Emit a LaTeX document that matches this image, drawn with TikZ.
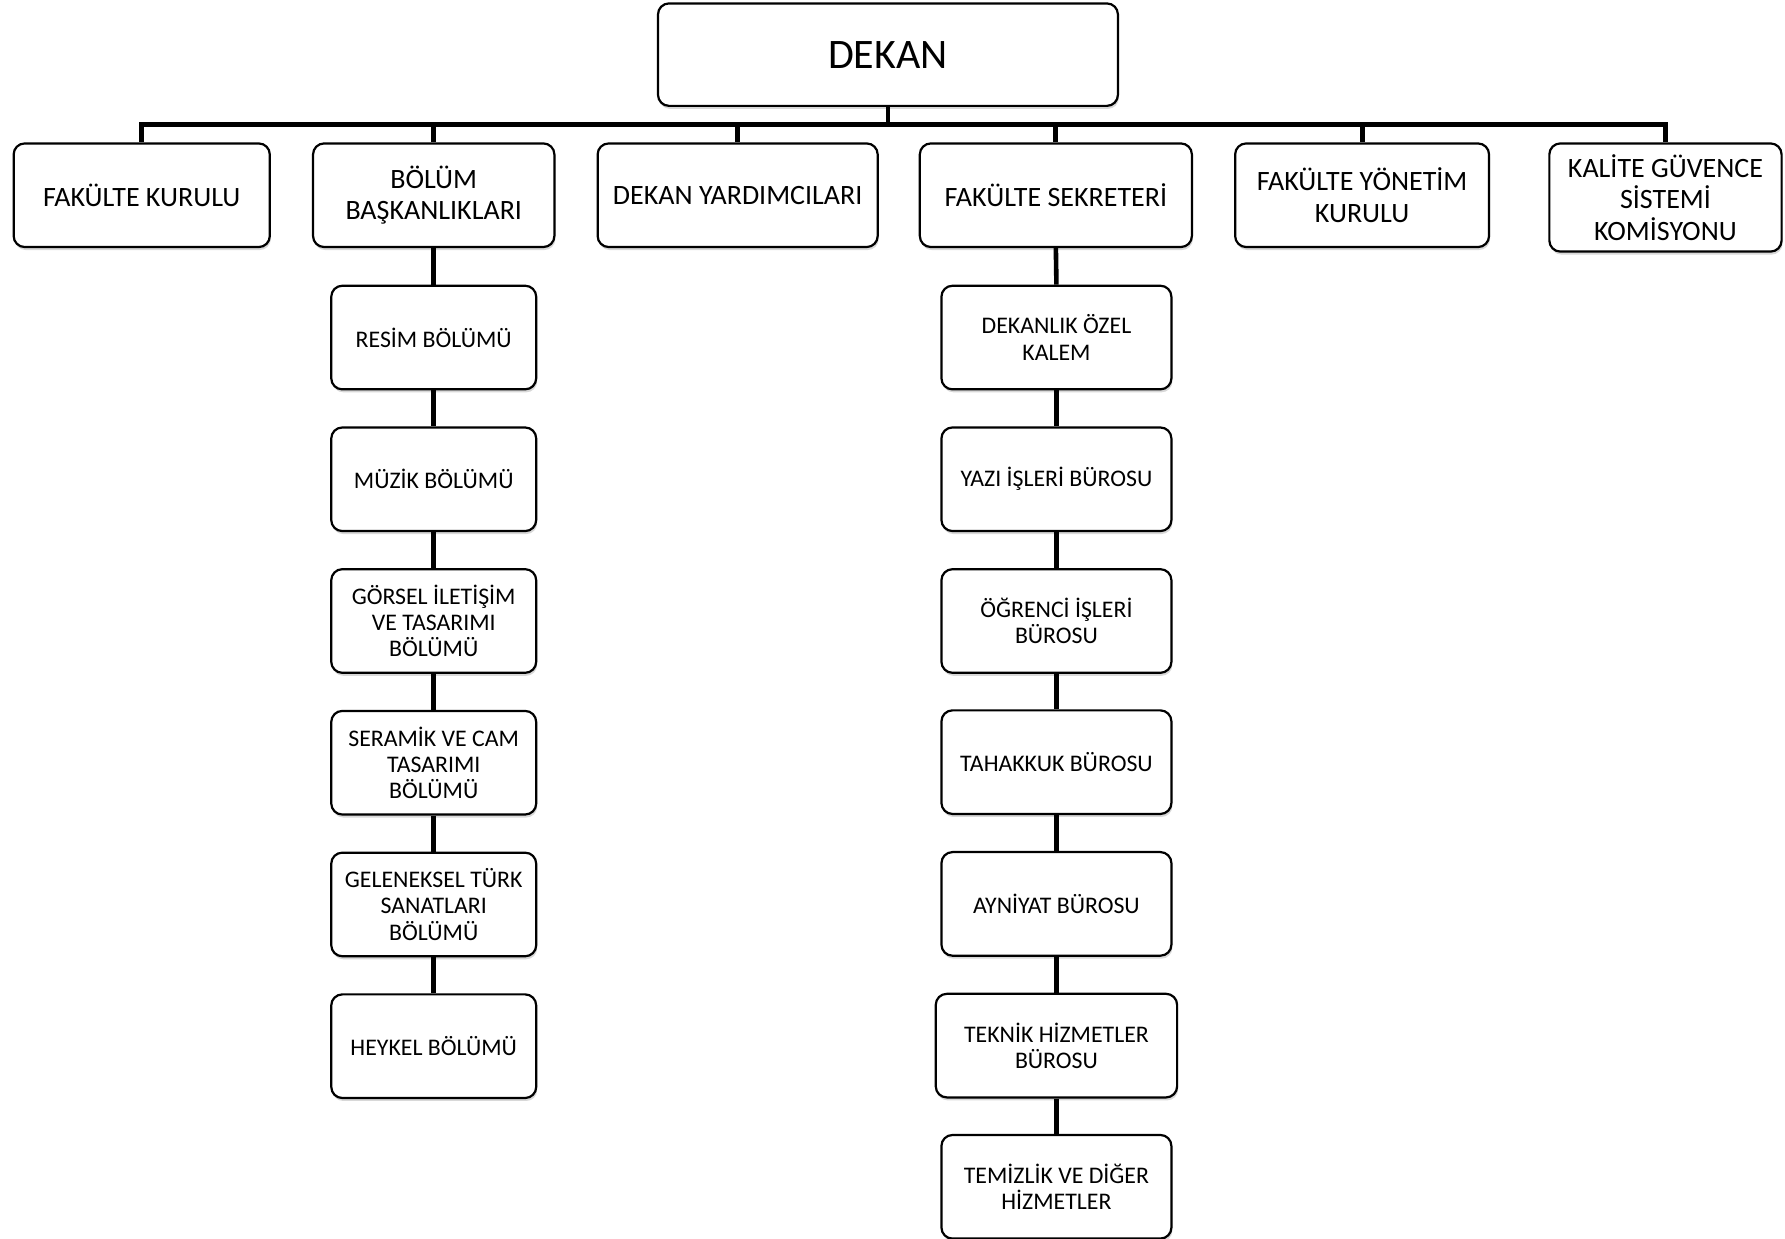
\documentclass[tikz,border=0pt]{standalone}
\usepackage{fontspec}
\setmainfont{Carlito}
\usetikzlibrary{shadows}
\begin{document}
\begin{tikzpicture}[x=1.1384pt,y=-1.1384pt,
  box/.style={draw=black, line width=2.2pt, rounded corners=11pt, fill=white, align=center,
    inner sep=2pt, text=black,
    drop shadow={shadow xshift=1pt, shadow yshift=-3pt, opacity=0.25, fill=black!60}},
  topbox/.style={box, font=\fontsize{28}{31.5}\selectfont},
  subbox/.style={box, font=\fontsize{23.8}{26.2}\selectfont},
  conn/.style={draw=black, line width=4.6pt},
  busline/.style={draw=black, line width=5pt}]
\useasboundingbox[fill=white] (0,0) rectangle (1568,1088);
% DEKAN
\node[box, font=\fontsize{42}{50}\selectfont, minimum width=404*1.1384pt, minimum height=90*1.1384pt] (dekan) at (780,48) {DEKAN};
% top row
\node[topbox, minimum width=225*1.1384pt, minimum height=91*1.1384pt] (fk) at (124.5,171.5) {FAKÜLTE KURULU};
\node[topbox, minimum width=212*1.1384pt, minimum height=91*1.1384pt] (bb) at (381,171.5) {BÖLÜM\\BAŞKANLIKLARI};
\node[topbox, minimum width=246*1.1384pt, minimum height=91*1.1384pt] (dy) at (648,171.5) {DEKAN YARDIMCILARI};
\node[topbox, minimum width=239*1.1384pt, minimum height=91*1.1384pt] (fs) at (927.5,171.5) {FAKÜLTE SEKRETERİ};
\node[topbox, minimum width=223*1.1384pt, minimum height=91*1.1384pt] (fy) at (1196.5,171.5) {FAKÜLTE YÖNETİM\\KURULU};
\node[topbox, minimum width=204*1.1384pt, minimum height=95*1.1384pt] (kg) at (1463,173.5) {KALİTE GÜVENCE\\SİSTEMİ\\KOMİSYONU};
% left column
\node[subbox, minimum width=180*1.1384pt, minimum height=91*1.1384pt] (l1) at (381,296.5) {RESİM BÖLÜMÜ};
\node[subbox, minimum width=180*1.1384pt, minimum height=91*1.1384pt] (l2) at (381,421) {MÜZİK BÖLÜMÜ};
\node[subbox, minimum width=180*1.1384pt, minimum height=91*1.1384pt] (l3) at (381,545.5) {GÖRSEL İLETİŞİM\\VE TASARIMI\\BÖLÜMÜ};
\node[subbox, minimum width=180*1.1384pt, minimum height=91*1.1384pt] (l4) at (381,670) {SERAMİK VE CAM\\TASARIMI\\BÖLÜMÜ};
\node[subbox, minimum width=180*1.1384pt, minimum height=91*1.1384pt] (l5) at (381,794.5) {GELENEKSEL TÜRK\\SANATLARI\\BÖLÜMÜ};
\node[subbox, minimum width=180*1.1384pt, minimum height=91*1.1384pt] (l6) at (381,919) {HEYKEL BÖLÜMÜ};
% right column
\node[subbox, minimum width=202*1.1384pt, minimum height=91*1.1384pt] (r1) at (928,296.5) {DEKANLIK ÖZEL\\KALEM};
\node[subbox, minimum width=202*1.1384pt, minimum height=91*1.1384pt] (r2) at (928,421) {YAZI İŞLERİ BÜROSU};
\node[subbox, minimum width=202*1.1384pt, minimum height=91*1.1384pt] (r3) at (928,545.5) {ÖĞRENCİ İŞLERİ\\BÜROSU};
\node[subbox, minimum width=202*1.1384pt, minimum height=91*1.1384pt] (r4) at (928,669.5) {TAHAKKUK BÜROSU};
\node[subbox, minimum width=202*1.1384pt, minimum height=91*1.1384pt] (r5) at (928,794) {AYNİYAT BÜROSU};
\node[subbox, minimum width=212*1.1384pt, minimum height=91*1.1384pt] (r6) at (928,918.5) {TEKNİK HİZMETLER\\BÜROSU};
\node[subbox, minimum width=202*1.1384pt, minimum height=91*1.1384pt] (r7) at (928,1042.5) {TEMİZLİK VE DİĞER\\HİZMETLER};
% bus
\coordinate (bus) at (780,109);
\draw[conn] (dekan.south) -- (bus);
\draw[busline] (bus) -| (fk.north);
\draw[busline] (bus) -| (bb.north);
\draw[busline] (bus) -| (dy.north);
\draw[busline] (bus) -| (fs.north);
\draw[busline] (bus) -| (fy.north);
\draw[busline] (bus) -| (kg.north);
% columns
\draw[conn] (bb.south) -- (l1.north);
\draw[conn] (l1.south) -- (l2.north);
\draw[conn] (l2.south) -- (l3.north);
\draw[conn] (l3.south) -- (l4.north);
\draw[conn] (l4.south) -- (l5.north);
\draw[conn] (l5.south) -- (l6.north);
\draw[conn] (fs.south) -- (r1.north);
\draw[conn] (r1.south) -- (r2.north);
\draw[conn] (r2.south) -- (r3.north);
\draw[conn] (r3.south) -- (r4.north);
\draw[conn] (r4.south) -- (r5.north);
\draw[conn] (r5.south) -- (r6.north);
\draw[conn] (r6.south) -- (r7.north);
\end{tikzpicture}
\end{document}
